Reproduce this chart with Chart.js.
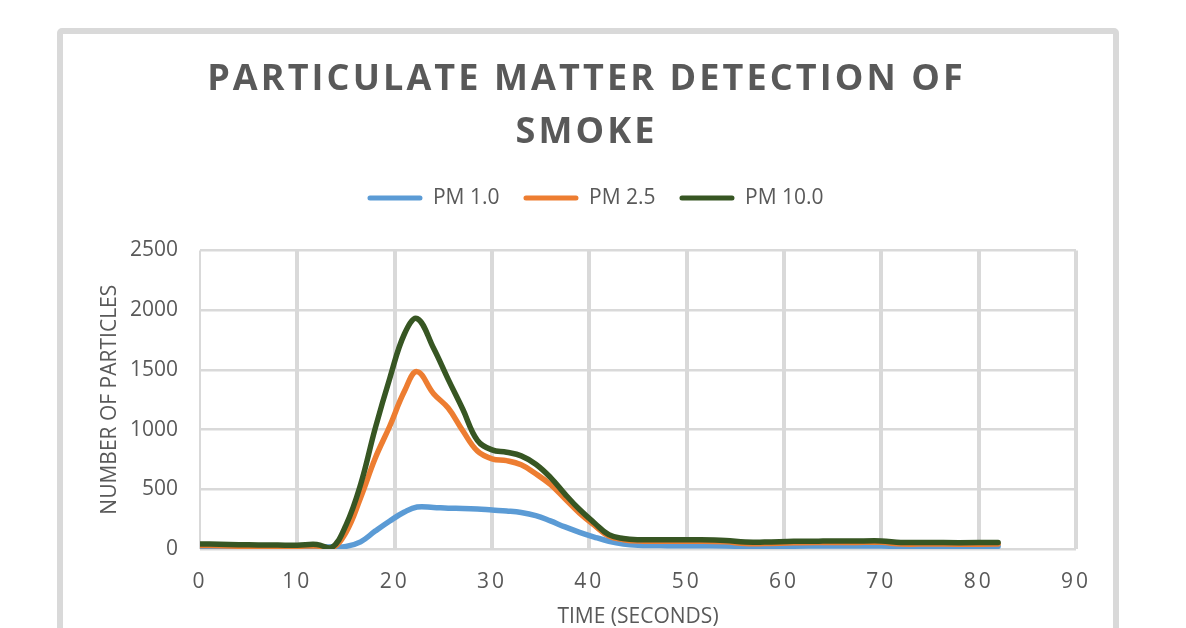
<!DOCTYPE html>
<html>
<head>
<meta charset="utf-8">
<script src="https://cdn.jsdelivr.net/npm/chart.js@4.4.1/dist/chart.umd.min.js"></script>
<style>
  html, body { margin: 0; padding: 0; background: #ffffff; width: 1186px; height: 628px; overflow: hidden; }
  #card { position: absolute; left: 57px; top: 28px; width: 1050px; height: 700px; border: 6px solid #d9d9d9; border-radius: 5px; background: #ffffff; }
  #c { position: absolute; left: 0; top: 0; }
</style>
</head>
<body>
<div id="card"></div>
<canvas id="c" width="1186" height="628"></canvas>
<script>
// ---- data ----
const timeSeconds = [0,2,4,6,8,10,12,13.5,15,16.5,18,19.5,21,22.3,24,25.5,27,28.5,30,31.5,33,34.5,36,37.5,39,40.5,42,43.5,45,48,51,54,56,58,61,64,67,70,72,75,78,82];
const pm10 = [42,40,36,34,33,32,38,10,200,540,1010,1430,1800,1930,1680,1420,1170,910,830,810,780,710,600,460,330,220,120,88,78,78,78,72,58,58,64,66,66,68,55,55,53,55];
const pm25 = [30,28,24,22,22,22,25,5,140,430,760,1030,1320,1485,1300,1180,990,820,755,740,705,630,540,420,300,200,108,78,66,65,65,60,45,45,52,54,54,56,42,42,40,42];
const pm1 = [15,14,13,13,13,14,18,18,22,60,150,235,310,352,348,342,340,335,326,318,306,280,235,185,140,100,65,42,32,28,28,26,22,22,24,25,25,25,20,20,20,22];
const seriesNames = ['PM 1.0', 'PM 2.5', 'PM 10.0'];
const xTicks = [0,10,20,30,40,50,60,70,80,90];
const yTicks = [0,500,1000,1500,2000,2500];
const titleLines = ['PARTICULATE MATTER DETECTION OF', 'SMOKE'];
const xTitle = 'TIME (SECONDS)';
const yTitle = 'NUMBER OF PARTICLES';

const toPoints = (vals) => vals.map((v, i) => ({ x: timeSeconds[i], y: v }));

Chart.defaults.font.family = "'Open Sans', sans-serif";
Chart.defaults.color = '#595959';

const spacingPlugin = {
  id: 'spacingPlugin',
  beforeLayout(chart) {
    const t = chart.titleBlock;
    if (t && !t._sp) {
      const d = t.draw;
      t.draw = function (a) { this.ctx.save(); this.ctx.letterSpacing = '3.1px'; d.call(this, a); this.ctx.restore(); };
      t._sp = true;
    }
    const x = chart.scales.x;
    if (x && !x._sp) {
      const dl = x.drawLabels;
      x.drawLabels = function (a) { this.ctx.save(); this.ctx.letterSpacing = '3px'; dl.call(this, a); this.ctx.restore(); };
      x._sp = true;
    }
    const lg = chart.legend;
    if (lg && !lg._sp) {
      const f = lg.fit;
      lg.fit = function () { f.call(this); this.height += 32; };
      const dr = lg.draw;
      lg.draw = function (a) { this.ctx.save(); this.ctx.translate(9, 0); dr.call(this, a); this.ctx.restore(); };
      lg._sp = true;
    }
  }
};

new Chart(document.getElementById('c'), {
  type: 'line',
  data: {
    datasets: [
      { label: seriesNames[0], data: toPoints(pm1), borderColor: '#5b9bd5', backgroundColor: '#5b9bd5', order: 3 },
      { label: seriesNames[1], data: toPoints(pm25), borderColor: '#ed7d31', backgroundColor: '#ed7d31', order: 2 },
      { label: seriesNames[2], data: toPoints(pm10), borderColor: '#375623', backgroundColor: '#375623', order: 1 }
    ]
  },
  options: {
    responsive: false,
    animation: false,
    layout: { padding: { left: 97, right: 110, top: 0, bottom: 0 } },
    elements: {
      line: { borderWidth: 5.5, tension: 0.4, borderCapStyle: 'round', borderJoinStyle: 'round', fill: false },
      point: { radius: 0, hoverRadius: 0 }
    },
    plugins: {
      title: {
        display: true,
        text: titleLines,
        color: '#595959',
        font: { family: "'Open Sans', sans-serif", weight: 'bold', size: 36, lineHeight: 1.45 },
        padding: { top: 54, bottom: 5 }
      },
      legend: {
        display: true,
        position: 'top',
        labels: {
          boxWidth: 55,
          boxHeight: 5,
          useBorderRadius: true,
          borderRadius: 2.5,
          padding: 24,
          color: '#595959',
          font: { size: 21 },
          sort: (a, b) => a.datasetIndex - b.datasetIndex,
          generateLabels(chart) {
            const items = Chart.defaults.plugins.legend.labels.generateLabels(chart);
            items.forEach(it => { it.lineWidth = 0; it.strokeStyle = it.fillStyle; });
            return items;
          }
        }
      },
      tooltip: { enabled: false }
    },
    scales: {
      x: {
        type: 'linear',
        min: xTicks[0],
        max: xTicks[xTicks.length - 1],
        afterBuildTicks(scale) { scale.ticks = xTicks.map(v => ({ value: v })); },
        afterFit(scale) { scale.height = 79; },
        grid: { color: '#d9d9d9', lineWidth: (ctx) => (ctx.index === 0 ? 2 : 4), drawTicks: false },
        border: { display: false },
        ticks: { padding: 20, color: '#595959', font: { size: 21 }, maxRotation: 0, callback: (v) => String(v) },
        title: { display: true, text: xTitle, color: '#595959', font: { size: 21, lineHeight: 1 }, padding: { top: 0, bottom: 0 } }
      },
      y: {
        type: 'linear',
        min: yTicks[0],
        max: yTicks[yTicks.length - 1],
        afterBuildTicks(scale) { scale.ticks = yTicks.map(v => ({ value: v })); },
        afterFit(scale) { scale.width = 103; },
        grid: { color: '#d9d9d9', lineWidth: 2.5, drawTicks: false },
        border: { display: false },
        ticks: { padding: 22, color: '#595959', font: { size: 21 }, callback: (v) => String(v) },
        title: { display: true, text: yTitle, color: '#595959', font: { size: 21 }, padding: { top: 0, bottom: 0 } }
      }
    }
  },
  plugins: [spacingPlugin]
});
</script>
</body>
</html>
